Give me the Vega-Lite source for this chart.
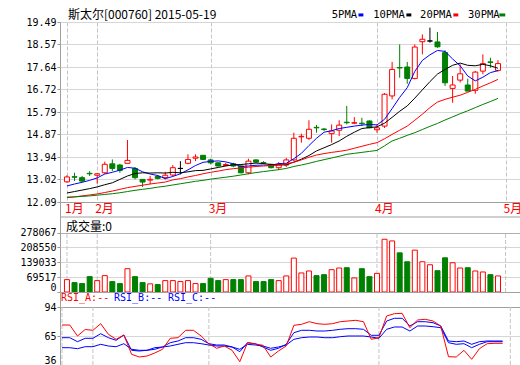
{
"$schema": "https://vega.github.io/schema/vega-lite/v6.json",
"background": "#ffffff",
"autosize": {"type": "pad"},
"padding": {"left": 19, "top": 8, "right": 0, "bottom": 0},
"bounds": "flush",
"spacing": 0,
"config": {"view": {"stroke": "#a0a0a0"}},
"resolve": {"scale": {"x": "independent", "y": "independent", "color": "independent", "fill": "independent", "stroke": "independent"}},
"datasets": {
"one": [{}],
"m": [{"i":0,"t":"1月"},{"i":4,"t":"2月"},{"i":19,"t":"3月"},{"i":41,"t":"4月"},{"i":58,"t":"5月"}],
"d": [
{"i":0,"o":12.92,"h":13.19,"l":12.88,"c":13.12,"dir":"up","v":57900,"m5":12.75,"m10":12.46,"m20":12.27,"m30":12.29,"ra":76,"rb":63.3,"rc":53.3},
{"i":1,"o":13.13,"h":13.29,"l":12.95,"c":13.11,"dir":"down","v":44000,"m5":12.83,"m10":12.52,"m20":12.30,"m30":12.30,"ra":76,"rb":63.3,"rc":53.3},
{"i":2,"o":13.09,"h":13.16,"l":12.91,"c":12.95,"dir":"down","v":39400,"m5":12.90,"m10":12.58,"m20":12.34,"m30":12.32,"ra":65,"rb":59.3,"rc":52.3},
{"i":3,"o":13.27,"h":13.36,"l":13.16,"c":13.25,"dir":"down","v":71800,"m5":12.98,"m10":12.64,"m20":12.38,"m30":12.34,"ra":71.5,"rb":62.7,"rc":54.3},
{"i":4,"o":13.19,"h":13.28,"l":12.84,"c":13.25,"dir":"up","v":53300,"m5":13.08,"m10":12.71,"m20":12.42,"m30":12.37,"ra":70.7,"rb":62.7,"rc":54.3},
{"i":5,"o":13.29,"h":13.75,"l":13.25,"c":13.64,"dir":"up","v":76500,"m5":13.24,"m10":12.80,"m20":12.48,"m30":12.40,"ra":77.3,"rb":67.3,"rc":56.7},
{"i":6,"o":13.66,"h":13.84,"l":13.36,"c":13.47,"dir":"down","v":48700,"m5":13.31,"m10":12.88,"m20":12.54,"m30":12.43,"ra":66.7,"rb":63.3,"rc":55},
{"i":7,"o":13.61,"h":13.66,"l":13.29,"c":13.39,"dir":"down","v":39400,"m5":13.40,"m10":13.02,"m20":12.61,"m30":12.47,"ra":61.7,"rb":60.7,"rc":54.3},
{"i":8,"o":13.68,"h":14.64,"l":13.68,"c":13.80,"dir":"up","v":108900,"m5":13.51,"m10":13.16,"m20":12.68,"m30":12.52,"ra":66,"rb":66,"rc":57.3},
{"i":9,"o":13.47,"h":13.53,"l":13.02,"c":13.09,"dir":"down","v":71800,"m5":13.48,"m10":13.26,"m20":12.73,"m30":12.57,"ra":46.7,"rb":50.7,"rc":51.7},
{"i":10,"o":13.02,"h":13.02,"l":12.71,"c":12.91,"dir":"down","v":44000,"m5":13.33,"m10":13.29,"m20":12.78,"m30":12.61,"ra":44,"rb":50,"rc":50.7},
{"i":11,"o":12.99,"h":13.16,"l":12.82,"c":13.02,"dir":"up","v":38000,"m5":13.24,"m10":13.28,"m20":12.83,"m30":12.65,"ra":45,"rb":50.7,"rc":50.7},
{"i":12,"o":13.14,"h":13.20,"l":13.02,"c":13.06,"dir":"down","v":34800,"m5":13.18,"m10":13.29,"m20":12.87,"m30":12.70,"ra":48,"rb":51.7,"rc":53.3},
{"i":13,"o":13.09,"h":13.33,"l":13.02,"c":13.19,"dir":"up","v":53300,"m5":13.05,"m10":13.28,"m20":12.91,"m30":12.74,"ra":51.7,"rb":54,"rc":54},
{"i":14,"o":13.20,"h":13.61,"l":13.16,"c":13.50,"dir":"up","v":53300,"m5":13.14,"m10":13.31,"m20":13.00,"m30":12.79,"ra":62.7,"rb":58.3,"rc":55},
{"i":15,"o":13.47,"h":13.77,"l":13.23,"c":13.47,"dir":"flat","v":48700,"m5":13.25,"m10":13.29,"m20":13.05,"m30":12.84,"ra":63.3,"rb":60,"rc":56.7},
{"i":16,"o":13.68,"h":14.05,"l":13.64,"c":13.84,"dir":"up","v":53300,"m5":13.41,"m10":13.33,"m20":13.12,"m30":12.89,"ra":70.7,"rb":63.3,"rc":58.3},
{"i":17,"o":13.89,"h":14.05,"l":13.77,"c":13.94,"dir":"up","v":39400,"m5":13.59,"m10":13.38,"m20":13.18,"m30":12.94,"ra":70.7,"rb":63.3,"rc":58.3},
{"i":18,"o":14.01,"h":14.02,"l":13.84,"c":13.84,"dir":"down","v":39400,"m5":13.72,"m10":13.39,"m20":13.25,"m30":12.98,"ra":65,"rb":61.7,"rc":57.3},
{"i":19,"o":13.82,"h":13.87,"l":13.64,"c":13.70,"dir":"down","v":63900,"m5":13.76,"m10":13.45,"m20":13.31,"m30":13.03,"ra":57.3,"rb":57.3,"rc":56},
{"i":20,"o":13.70,"h":13.73,"l":13.55,"c":13.57,"dir":"down","v":53300,"m5":13.78,"m10":13.51,"m20":13.36,"m30":13.07,"ra":52.7,"rb":56,"rc":55},
{"i":21,"o":13.59,"h":13.70,"l":13.57,"c":13.63,"dir":"up","v":57900,"m5":13.74,"m10":13.57,"m20":13.42,"m30":13.11,"ra":55,"rb":56,"rc":55},
{"i":22,"o":13.66,"h":13.70,"l":13.52,"c":13.57,"dir":"down","v":57900,"m5":13.66,"m10":13.62,"m20":13.46,"m30":13.15,"ra":50.7,"rb":54,"rc":54},
{"i":23,"o":13.57,"h":13.60,"l":13.27,"c":13.29,"dir":"down","v":57900,"m5":13.55,"m10":13.63,"m20":13.49,"m30":13.20,"ra":39.3,"rb":49.3,"rc":51.7},
{"i":24,"o":13.29,"h":13.87,"l":13.23,"c":13.77,"dir":"up","v":75100,"m5":13.57,"m10":13.66,"m20":13.52,"m30":13.25,"ra":58.3,"rb":58.3,"rc":56.7},
{"i":25,"o":13.82,"h":13.84,"l":13.70,"c":13.73,"dir":"down","v":48700,"m5":13.60,"m10":13.69,"m20":13.55,"m30":13.30,"ra":57,"rb":57.3,"rc":56},
{"i":26,"o":13.71,"h":13.77,"l":13.65,"c":13.70,"dir":"down","v":48700,"m5":13.61,"m10":13.67,"m20":13.57,"m30":13.34,"ra":55.7,"rb":54,"rc":55},
{"i":27,"o":13.64,"h":13.66,"l":13.47,"c":13.50,"dir":"down","v":57900,"m5":13.60,"m10":13.63,"m20":13.59,"m30":13.38,"ra":44,"rb":50.7,"rc":52.7},
{"i":28,"o":13.50,"h":13.73,"l":13.40,"c":13.64,"dir":"up","v":53300,"m5":13.67,"m10":13.61,"m20":13.61,"m30":13.42,"ra":50,"rb":52.7,"rc":54},
{"i":29,"o":13.61,"h":13.90,"l":13.53,"c":13.82,"dir":"up","v":75100,"m5":13.68,"m10":13.62,"m20":13.66,"m30":13.47,"ra":55,"rb":56.7,"rc":56},
{"i":30,"o":13.82,"h":14.94,"l":13.77,"c":14.71,"dir":"up","v":158500,"m5":13.87,"m10":13.73,"m20":13.72,"m30":13.55,"ra":75.7,"rb":68.3,"rc":61.7},
{"i":31,"o":14.77,"h":14.90,"l":14.53,"c":14.79,"dir":"up","v":89000,"m5":14.09,"m10":13.85,"m20":13.82,"m30":13.61,"ra":76.7,"rb":70.7,"rc":63.3},
{"i":32,"o":14.71,"h":15.45,"l":14.64,"c":15.08,"dir":"up","v":98200,"m5":14.41,"m10":14.00,"m20":13.93,"m30":13.68,"ra":79.3,"rb":70.7,"rc":64},
{"i":33,"o":15.16,"h":15.26,"l":14.94,"c":15.14,"dir":"down","v":76500,"m5":14.71,"m10":14.19,"m20":14.02,"m30":13.76,"ra":77.3,"rb":70,"rc":64},
{"i":34,"o":15.09,"h":15.13,"l":15.01,"c":15.07,"dir":"down","v":81100,"m5":14.96,"m10":14.32,"m20":14.08,"m30":13.83,"ra":76.7,"rb":70,"rc":63.3},
{"i":35,"o":14.90,"h":15.28,"l":14.53,"c":15.01,"dir":"up","v":104300,"m5":15.02,"m10":14.45,"m20":14.13,"m30":13.90,"ra":77.3,"rb":70.7,"rc":63.3},
{"i":36,"o":15.04,"h":15.45,"l":14.80,"c":15.25,"dir":"up","v":112100,"m5":15.11,"m10":14.60,"m20":14.17,"m30":13.97,"ra":79.3,"rb":71.7,"rc":64.3},
{"i":37,"o":15.37,"h":16.04,"l":15.28,"c":15.35,"dir":"down","v":113500,"m5":15.16,"m10":14.79,"m20":14.22,"m30":14.05,"ra":80,"rb":72.3,"rc":65},
{"i":38,"o":15.33,"h":15.58,"l":15.29,"c":15.35,"dir":"up","v":65800,"m5":15.21,"m10":14.96,"m20":14.30,"m30":14.09,"ra":80.7,"rb":72.3,"rc":65},
{"i":39,"o":15.33,"h":15.55,"l":15.21,"c":15.31,"dir":"down","v":108900,"m5":15.25,"m10":15.11,"m20":14.38,"m30":14.13,"ra":79.3,"rb":71.7,"rc":65},
{"i":40,"o":15.42,"h":15.45,"l":15.12,"c":15.14,"dir":"down","v":71800,"m5":15.28,"m10":15.15,"m20":14.46,"m30":14.17,"ra":61.7,"rb":65.7,"rc":64},
{"i":41,"o":15.06,"h":15.28,"l":14.94,"c":15.14,"dir":"up","v":87100,"m5":15.26,"m10":15.18,"m20":14.53,"m30":14.21,"ra":63.3,"rb":65.7,"rc":62.7},
{"i":42,"o":15.21,"h":16.57,"l":15.13,"c":16.52,"dir":"up","v":246500,"m5":15.49,"m10":15.33,"m20":14.69,"m30":14.40,"ra":85,"rb":80,"rc":71.7},
{"i":43,"o":16.45,"h":17.85,"l":16.31,"c":17.54,"dir":"up","v":238700,"m5":15.93,"m10":15.57,"m20":14.87,"m30":14.60,"ra":87.3,"rb":82.7,"rc":74},
{"i":44,"o":17.62,"h":18.57,"l":17.20,"c":17.60,"dir":"down","v":183000,"m5":16.39,"m10":15.82,"m20":15.04,"m30":14.71,"ra":87.7,"rb":82.7,"rc":74},
{"i":45,"o":17.64,"h":17.85,"l":16.95,"c":17.17,"dir":"down","v":141300,"m5":16.79,"m10":16.04,"m20":15.21,"m30":14.83,"ra":73.3,"rb":75,"rc":70},
{"i":46,"o":17.17,"h":18.57,"l":17.13,"c":18.46,"dir":"up","v":195600,"m5":17.46,"m10":16.36,"m20":15.45,"m30":14.94,"ra":81,"rb":79.3,"rc":75},
{"i":47,"o":18.68,"h":18.98,"l":18.16,"c":18.78,"dir":"up","v":141300,"m5":17.91,"m10":16.70,"m20":15.70,"m30":15.07,"ra":81.7,"rb":79.3,"rc":75},
{"i":48,"o":18.71,"h":19.26,"l":18.64,"c":18.71,"dir":"flat","v":127400,"m5":18.14,"m10":17.04,"m20":15.97,"m30":15.20,"ra":80,"rb":78.3,"rc":74.3},
{"i":49,"o":18.67,"h":19.08,"l":18.43,"c":18.47,"dir":"down","v":99600,"m5":18.32,"m10":17.35,"m20":16.20,"m30":15.32,"ra":75,"rb":75,"rc":73.3},
{"i":50,"o":18.23,"h":18.33,"l":16.86,"c":16.99,"dir":"down","v":159900,"m5":18.28,"m10":17.54,"m20":16.31,"m30":15.46,"ra":44.3,"rb":60,"rc":58.3},
{"i":51,"o":16.76,"h":17.27,"l":16.17,"c":16.90,"dir":"up","v":136700,"m5":17.97,"m10":17.71,"m20":16.40,"m30":15.59,"ra":44,"rb":59.3,"rc":56.7},
{"i":52,"o":17.10,"h":17.75,"l":17.00,"c":17.36,"dir":"up","v":112100,"m5":17.69,"m10":17.80,"m20":16.48,"m30":15.72,"ra":50.7,"rb":60,"rc":57.3},
{"i":53,"o":16.90,"h":17.16,"l":16.65,"c":16.65,"dir":"down","v":113500,"m5":17.27,"m10":17.71,"m20":16.60,"m30":15.84,"ra":41.7,"rb":56.7,"rc":53.3},
{"i":54,"o":16.68,"h":17.48,"l":16.54,"c":17.43,"dir":"up","v":98200,"m5":17.07,"m10":17.69,"m20":16.72,"m30":15.97,"ra":52.3,"rb":59.3,"rc":56.7},
{"i":55,"o":17.47,"h":18.16,"l":17.34,"c":17.78,"dir":"up","v":93600,"m5":17.22,"m10":17.75,"m20":16.86,"m30":16.10,"ra":57.3,"rb":60,"rc":59.3},
{"i":56,"o":17.85,"h":18.02,"l":17.61,"c":17.83,"dir":"down","v":81100,"m5":17.41,"m10":17.69,"m20":16.99,"m30":16.22,"ra":57.7,"rb":60,"rc":59.3},
{"i":57,"o":17.50,"h":17.92,"l":17.45,"c":17.78,"dir":"up","v":75100,"m5":17.49,"m10":17.59,"m20":17.13,"m30":16.35,"ra":57.7,"rb":60,"rc":59.3}
]
},
"vconcat": [
{
"width": 460, "height": 180,
"layer": [
{"data": {"name": "d"}, "mark": {"type": "rule", "strokeWidth": 1},
 "encoding": {
  "x": {"field": "i", "type": "quantitative", "scale": {"domain": [-0.26, 59.25], "nice": false, "zero": false},
        "axis": {"title": null, "values": [0, 4, 19, 41, 58], "tickCount": 20, "labels": false, "ticks": false, "domain": false, "grid": true, "gridDash": [4, 2], "gridColor": "#c4c4c4"}},
  "y": {"field": "l", "type": "quantitative", "scale": {"domain": [12.09, 19.49], "nice": false, "zero": false},
        "axis": {"title": null, "values": [12.09, 13.02, 13.94, 14.87, 15.79, 16.72, 17.64, 18.57, 19.49], "tickCount": 20, "format": ".2f", "labelOverlap": false, "grid": true, "gridColor": "#d6d6d6", "domain": false, "tickSize": 3, "tickColor": "#999999", "labelPadding": 1, "labelFont": "DejaVu Sans Mono", "labelFontSize": 10, "labelColor": "#000000"}},
  "y2": {"field": "h"},
  "color": {"field": "dir", "type": "nominal", "scale": {"domain": ["up", "down", "flat"], "range": ["#ff0000", "#008000", "#000000"]}, "legend": null}
 }},
{"data": {"name": "d"}, "mark": {"type": "bar", "size": 5, "strokeWidth": 1},
 "encoding": {
  "x": {"field": "i", "type": "quantitative"},
  "y": {"field": "o", "type": "quantitative"},
  "y2": {"field": "c"},
  "fill": {"field": "dir", "type": "nominal", "scale": {"domain": ["up", "down", "flat"], "range": ["#ffffff", "#008000", "#000000"]}, "legend": null},
  "stroke": {"field": "dir", "type": "nominal", "scale": {"domain": ["up", "down", "flat"], "range": ["#ff0000", "#008000", "#000000"]}, "legend": null}
 }},
{"data": {"name": "d"}, "mark": {"type": "line", "color": "#0000ff", "strokeWidth": 1},
 "encoding": {"x": {"field": "i", "type": "quantitative"}, "y": {"field": "m5", "type": "quantitative"}}},
{"data": {"name": "d"}, "mark": {"type": "line", "color": "#000000", "strokeWidth": 1},
 "encoding": {"x": {"field": "i", "type": "quantitative"}, "y": {"field": "m10", "type": "quantitative"}}},
{"data": {"name": "d"}, "mark": {"type": "line", "color": "#ff0000", "strokeWidth": 1},
 "encoding": {"x": {"field": "i", "type": "quantitative"}, "y": {"field": "m20", "type": "quantitative"}}},
{"data": {"name": "d"}, "mark": {"type": "line", "color": "#008000", "strokeWidth": 1},
 "encoding": {"x": {"field": "i", "type": "quantitative"}, "y": {"field": "m30", "type": "quantitative"}}},
{"data": {"name": "one"}, "mark": {"type": "text", "text": "斯太尔[000760] 2015-05-19", "align": "left", "baseline": "middle", "font": "Noto Sans CJK SC", "fontSize": 12, "color": "#000000"},
 "encoding": {"x": {"datum": 0.13, "type": "quantitative"}, "y": {"datum": 19.78, "type": "quantitative"}}},
{"data": {"name": "one"}, "mark": {"type": "text", "text": "5PMA", "align": "left", "baseline": "middle", "font": "DejaVu Sans Mono", "fontSize": 10.5, "color": "#000000"},
 "encoding": {"x": {"datum": 35.02, "type": "quantitative"}, "y": {"datum": 19.78, "type": "quantitative"}}},
{"data": {"name": "one"}, "mark": {"type": "rule", "color": "#0000ff", "strokeWidth": 3},
 "encoding": {"x": {"datum": 38.55, "type": "quantitative"}, "x2": {"datum": 39.2}, "y": {"datum": 19.78, "type": "quantitative"}}},
{"data": {"name": "one"}, "mark": {"type": "text", "text": "10PMA", "align": "left", "baseline": "middle", "font": "DejaVu Sans Mono", "fontSize": 10.5, "color": "#000000"},
 "encoding": {"x": {"datum": 40.49, "type": "quantitative"}, "y": {"datum": 19.78, "type": "quantitative"}}},
{"data": {"name": "one"}, "mark": {"type": "rule", "color": "#000000", "strokeWidth": 3},
 "encoding": {"x": {"datum": 44.89, "type": "quantitative"}, "x2": {"datum": 45.54}, "y": {"datum": 19.78, "type": "quantitative"}}},
{"data": {"name": "one"}, "mark": {"type": "text", "text": "20PMA", "align": "left", "baseline": "middle", "font": "DejaVu Sans Mono", "fontSize": 10.5, "color": "#000000"},
 "encoding": {"x": {"datum": 46.7, "type": "quantitative"}, "y": {"datum": 19.78, "type": "quantitative"}}},
{"data": {"name": "one"}, "mark": {"type": "rule", "color": "#ff0000", "strokeWidth": 3},
 "encoding": {"x": {"datum": 51.1, "type": "quantitative"}, "x2": {"datum": 51.75}, "y": {"datum": 19.78, "type": "quantitative"}}},
{"data": {"name": "one"}, "mark": {"type": "text", "text": "30PMA", "align": "left", "baseline": "middle", "font": "DejaVu Sans Mono", "fontSize": 10.5, "color": "#000000"},
 "encoding": {"x": {"datum": 53.04, "type": "quantitative"}, "y": {"datum": 19.78, "type": "quantitative"}}},
{"data": {"name": "one"}, "mark": {"type": "rule", "color": "#008000", "strokeWidth": 3},
 "encoding": {"x": {"datum": 57.18, "type": "quantitative"}, "x2": {"datum": 57.96}, "y": {"datum": 19.78, "type": "quantitative"}}}
]
},
{
"width": 460, "height": 90,
"layer": [
{"data": {"name": "m"}, "mark": {"type": "rule", "strokeDash": [4, 2], "color": "#c4c4c4"},
 "encoding": {
  "x": {"field": "i", "type": "quantitative", "scale": {"domain": [-0.26, 59.25], "nice": false, "zero": false}, "axis": null},
  "y": {"datum": 0, "type": "quantitative", "scale": {"domain": [0, 420606], "nice": false, "zero": false},
        "axis": {"title": null, "values": [0, 69517, 139033, 208550, 278067], "tickCount": 20, "format": "d", "labelOverlap": false, "grid": true,
                 "gridColor": {"condition": {"test": "datum.value == 278067", "value": "#b0b0b0"}, "value": "#d6d6d6"},
                 "domain": false, "tickSize": 3, "tickColor": "#999999", "labelPadding": 1, "labelFont": "DejaVu Sans Mono", "labelFontSize": 10, "labelColor": "#000000",
                 "labelBaseline": {"condition": {"test": "datum.value == 0", "value": "bottom"}, "value": "middle"}}},
  "y2": {"datum": 278067}
 }},
{"data": {"name": "one"}, "mark": {"type": "rule", "color": "#a0a0a0", "strokeWidth": 1},
 "encoding": {"y": {"datum": 350505, "type": "quantitative"}}},
{"data": {"name": "d"}, "mark": {"type": "bar", "size": 5, "strokeWidth": 1},
 "encoding": {
  "x": {"field": "i", "type": "quantitative", "axis": null},
  "y": {"field": "v", "type": "quantitative"},
  "fill": {"field": "dir", "type": "nominal", "scale": {"domain": ["up", "down", "flat"], "range": ["#ffffff", "#008000", "#ffffff"]}, "legend": null},
  "stroke": {"field": "dir", "type": "nominal", "scale": {"domain": ["up", "down", "flat"], "range": ["#ff0000", "#008000", "#ff0000"]}, "legend": null}
 }},
{"data": {"name": "m"}, "mark": {"type": "text", "align": "left", "baseline": "middle", "dx": -2, "font": "Noto Sans CJK SC", "fontSize": 12, "color": "#ff0000", "clip": true},
 "encoding": {
  "x": {"field": "i", "type": "quantitative", "axis": null},
  "y": {"datum": 387890, "type": "quantitative"},
  "text": {"field": "t"}
 }},
{"data": {"name": "one"}, "mark": {"type": "text", "text": "成交量:0", "align": "left", "baseline": "middle", "font": "Noto Sans CJK SC", "fontSize": 12, "color": "#000000"},
 "encoding": {"x": {"datum": -0.13, "type": "quantitative", "axis": null}, "y": {"datum": 306107, "type": "quantitative"}}}
]
},
{
"width": 460, "height": 73,
"layer": [
{"data": {"name": "m"}, "mark": {"type": "rule", "strokeDash": [4, 2], "color": "#c4c4c4"},
 "encoding": {
  "x": {"field": "i", "type": "quantitative", "scale": {"domain": [-0.26, 59.25], "nice": false, "zero": false}, "axis": null},
  "y": {"datum": 36, "type": "quantitative", "scale": {"domain": [36, 109], "nice": false, "zero": false},
        "axis": {"title": null, "values": [36, 65, 94], "tickCount": 20, "labelOverlap": false, "grid": true,
                 "gridColor": {"condition": {"test": "datum.value == 94", "value": "#a0a0a0"}, "value": "#d6d6d6"},
                 "domain": false, "tickSize": 3, "tickColor": "#999999", "labelPadding": 1, "labelFont": "DejaVu Sans Mono", "labelFontSize": 10, "labelColor": "#000000",
                 "labelBaseline": {"condition": {"test": "datum.value == 36", "value": "bottom"}, "value": "middle"}}},
  "y2": {"datum": 94}
 }},
{"data": {"name": "d"}, "mark": {"type": "line", "color": "#0000ff", "strokeWidth": 1},
 "encoding": {"x": {"field": "i", "type": "quantitative", "axis": null}, "y": {"field": "rc", "type": "quantitative"}}},
{"data": {"name": "d"}, "mark": {"type": "line", "color": "#0000ff", "strokeWidth": 1},
 "encoding": {"x": {"field": "i", "type": "quantitative", "axis": null}, "y": {"field": "rb", "type": "quantitative"}}},
{"data": {"name": "d"}, "mark": {"type": "line", "color": "#ff0000", "strokeWidth": 1},
 "encoding": {"x": {"field": "i", "type": "quantitative", "axis": null}, "y": {"field": "ra", "type": "quantitative"}}},
{"data": {"name": "one"}, "mark": {"type": "text", "text": "RSI_A:--", "align": "left", "baseline": "middle", "font": "DejaVu Sans Mono", "fontSize": 10, "color": "#ff0000"},
 "encoding": {"x": {"datum": -0.13, "type": "quantitative", "axis": null}, "y": {"datum": 103.3, "type": "quantitative"}}},
{"data": {"name": "one"}, "mark": {"type": "text", "text": "RSI_B:--", "align": "left", "baseline": "middle", "font": "DejaVu Sans Mono", "fontSize": 10, "color": "#0000ff"},
 "encoding": {"x": {"datum": 6.73, "type": "quantitative", "axis": null}, "y": {"datum": 103.3, "type": "quantitative"}}},
{"data": {"name": "one"}, "mark": {"type": "text", "text": "RSI_C:--", "align": "left", "baseline": "middle", "font": "DejaVu Sans Mono", "fontSize": 10, "color": "#0000ff"},
 "encoding": {"x": {"datum": 13.71, "type": "quantitative", "axis": null}, "y": {"datum": 103.3, "type": "quantitative"}}}
]
}
]
}
